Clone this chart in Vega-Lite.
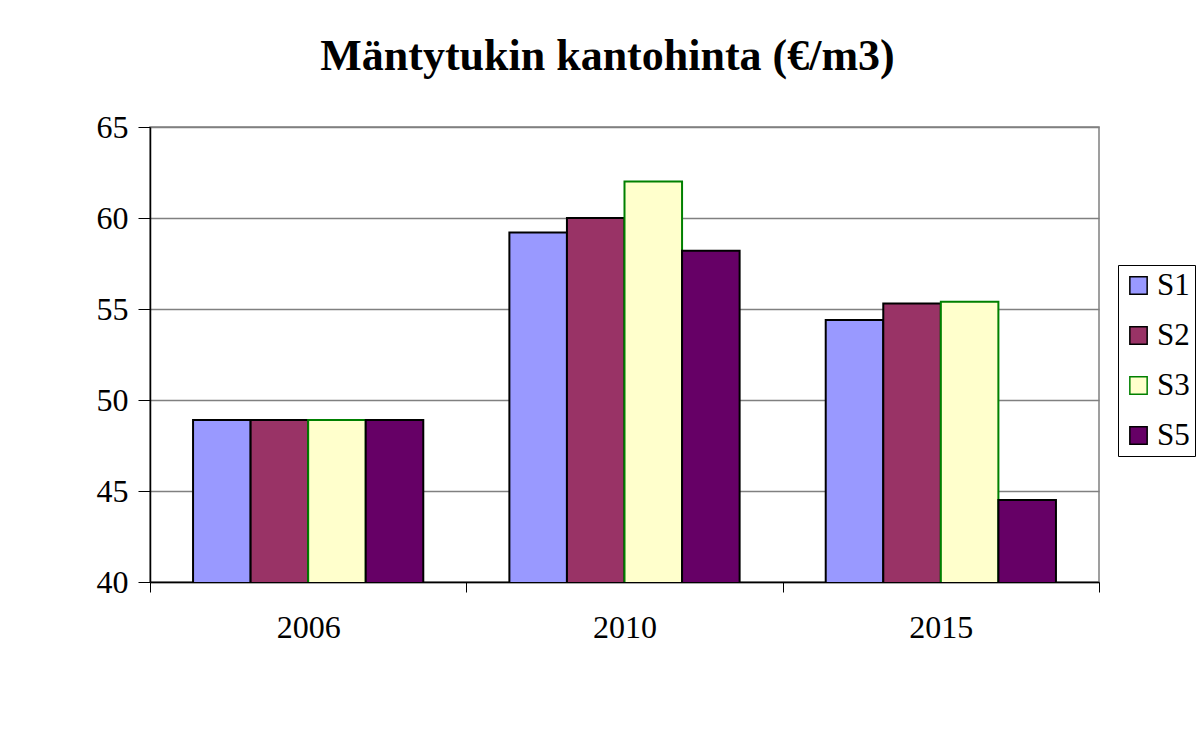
{
  "$schema": "https://vega.github.io/schema/vega-lite/v6.json",
  "width": 949,
  "height": 455,
  "autosize": {"type": "none"},
  "padding": {"left": 150, "top": 127, "right": 101, "bottom": 151},
  "background": "white",
  "title": {
    "text": "Mäntytukin kantohinta (€/m3)",
    "font": "Liberation Serif",
    "fontSize": 44,
    "fontWeight": "bold",
    "color": "black",
    "anchor": "middle",
    "frame": "group",
    "dx": -17,
    "offset": 32
  },
  "data": {
    "values": [
      {"year": "2006", "series": "S1", "value": 48.9},
      {"year": "2006", "series": "S2", "value": 48.9},
      {"year": "2006", "series": "S3", "value": 48.9},
      {"year": "2006", "series": "S5", "value": 48.9},
      {"year": "2010", "series": "S1", "value": 59.2},
      {"year": "2010", "series": "S2", "value": 60.0},
      {"year": "2010", "series": "S3", "value": 62.0},
      {"year": "2010", "series": "S5", "value": 58.2},
      {"year": "2015", "series": "S1", "value": 54.4},
      {"year": "2015", "series": "S2", "value": 55.3},
      {"year": "2015", "series": "S3", "value": 55.4},
      {"year": "2015", "series": "S5", "value": 44.5}
    ]
  },
  "mark": {"type": "bar", "strokeWidth": 2, "clip": true},
  "encoding": {
    "x": {
      "field": "year",
      "type": "nominal",
      "scale": {"paddingInner": 0, "paddingOuter": 0},
      "axis": {
        "title": null,
        "labelAngle": 0,
        "tickBand": "extent",
        "labelFont": "Liberation Serif",
        "labelFontSize": 32,
        "labelColor": "black",
        "labelPadding": 20,
        "domainColor": "black",
        "domainWidth": 1.5,
        "tickColor": "black",
        "tickSize": 10,
        "tickWidth": 1,
        "grid": false
      }
    },
    "xOffset": {
      "field": "series",
      "type": "nominal",
      "scale": {"paddingInner": 0, "paddingOuter": 0.748}
    },
    "y": {
      "field": "value",
      "type": "quantitative",
      "scale": {"domain": [40, 65], "zero": false, "nice": false},
      "axis": {
        "title": null,
        "values": [40, 45, 50, 55, 60, 65],
        "labelFont": "Liberation Serif",
        "labelFontSize": 32,
        "labelColor": "black",
        "labelPadding": 10,
        "domainColor": "black",
        "domainWidth": 1.5,
        "tickColor": "black",
        "tickSize": 12,
        "gridColor": "#808080",
        "gridWidth": 1.5,
        "gridOpacity": 1
      }
    },
    "fill": {
      "field": "series",
      "type": "nominal",
      "scale": {"domain": ["S1", "S2", "S3", "S5"], "range": ["#9999FF", "#993366", "#FFFFCC", "#660066"]},
      "legend": {
        "title": null,
        "orient": "none",
        "legendX": 968,
        "legendY": 138
      }
    },
    "stroke": {
      "field": "series",
      "type": "nominal",
      "scale": {"domain": ["S1", "S2", "S3", "S5"], "range": ["black", "black", "#008000", "black"]},
      "legend": {
        "title": null,
        "orient": "none",
        "legendX": 968,
        "legendY": 138
      }
    }
  },
  "config": {
    "font": "Liberation Serif",
    "view": {"stroke": "#808080", "strokeWidth": 1.5},
    "legend": {
      "symbolType": "square",
      "symbolSize": 300,
      "symbolStrokeWidth": 1.5,
      "symbolOffset": 0,
      "labelFont": "Liberation Serif",
      "labelFontSize": 31,
      "labelColor": "black",
      "labelOffset": 3,
      "rowPadding": 18,
      "padding": 5,
      "strokeColor": "black",
      "fillColor": "white"
    }
  }
}
